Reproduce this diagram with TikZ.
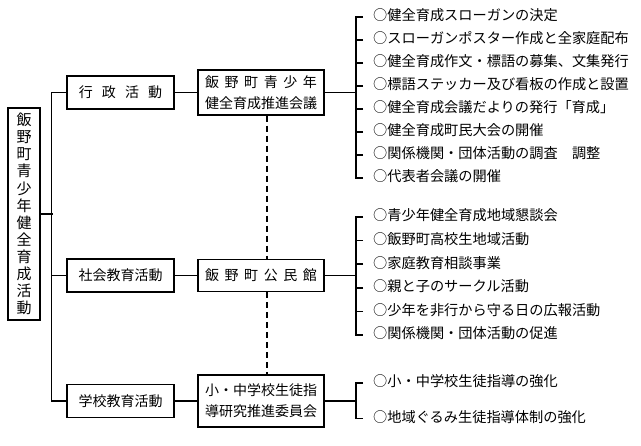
\documentclass[tikz,border=0pt]{standalone}
\usepackage{fontspec}
\usepackage{tikz}
\usetikzlibrary{positioning,calc}
\newfontfamily\jpfont{Noto Sans CJK JP}
\newcommand{\gapL}{\hspace{0.65em}}
\newcommand{\gapS}{\hspace{0.4em}}

\begin{document}
\begin{tikzpicture}[
  x=1pt, y=-1pt,
  every node/.style={font=\jpfont\fontsize{14}{21}\selectfont},
  rootbox/.style={rectangle, draw, line width=1.4pt, minimum width=32pt, minimum height=212pt,
    inner sep=0pt, align=center, font=\jpfont\fontsize{15}{17.1}\selectfont},
  actbox/.style={rectangle, draw, line width=1.4pt, minimum width=107pt, minimum height=33pt,
    inner sep=0pt, align=center},
  orgbox/.style={rectangle, draw, line width=1.4pt, minimum width=126pt, inner sep=0pt, align=center},
  item/.style={inner xsep=0pt, inner ysep=0pt, text height=11pt, text depth=3pt, anchor=west,
    font=\jpfont\fontsize{14.2}{21}\selectfont, execute at begin node={\hspace{10pt}}},
  link/.style={line width=1.6pt},
  dashlink/.style={line width=1.2pt, dash pattern=on 6pt off 4pt},
]
\useasboundingbox (0,0) rectangle (641,446);

% Root and activities
\node[rootbox] (root) at (24,214) {飯\\野\\町\\青\\少\\年\\健\\全\\育\\成\\活\\動};
\node[actbox] (gyosei) at (120.5,92.5) {行\gapL 政\gapL 活\gapL 動};
\node[actbox] (shakai) at (120.5,275.5) {社会教育活動};
\node[actbox] (gakko) at (120.5,401) {学校教育活動};

% Organisations
\node[orgbox, minimum height=45pt] (kaigi) at (261,92.5) {飯\gapS 野\gapS 町\gapS 青\gapS 少\gapS 年\\健全育成推進会議};
\node[orgbox, minimum height=32pt] (kominkan) at (261,275.5) {飯\gapS 野\gapS 町\gapS 公\gapS 民\gapS 館};
\node[orgbox, minimum height=52pt] (iinkai) at (261,401) {小・中学校生徒指\\導研究推進委員会};

% Items of the council
\node[item] (a1) at (363,17) {○健全育成スローガンの決定};
\node[item, below=8.6pt of a1.south west, anchor=north west] (a2) {○スローガンポスター作成と全家庭配布};
\node[item, below=8.6pt of a2.south west, anchor=north west] (a3) {○健全育成作文・標語の募集、文集発行};
\node[item, below=8.6pt of a3.south west, anchor=north west] (a4) {○標語ステッカー及び看板の作成と設置};
\node[item, below=8.6pt of a4.south west, anchor=north west] (a5) {○健全育成会議だよりの発行「育成」};
\node[item, below=8.6pt of a5.south west, anchor=north west] (a6) {○健全育成町民大会の開催};
\node[item, below=8.6pt of a6.south west, anchor=north west] (a7) {○関係機関・団体活動の調査　調整};
\node[item, below=8.6pt of a7.south west, anchor=north west] (a8) {○代表者会議の開催};

% Items of the hall
\node[item] (b1) at (363,217) {○青少年健全育成地域懇談会};
\node[item, below=9.2pt of b1.south west, anchor=north west] (b2) {○飯野町高校生地域活動};
\node[item, below=9.2pt of b2.south west, anchor=north west] (b3) {○家庭教育相談事業};
\node[item, below=9.2pt of b3.south west, anchor=north west] (b4) {○親と子のサークル活動};
\node[item, below=9.2pt of b4.south west, anchor=north west] (b5) {○少年を非行から守る日の広報活動};
\node[item, below=9.2pt of b5.south west, anchor=north west] (b6) {○関係機関・団体活動の促進};

% Items of the committee
\node[item] (c1) at (363,383) {○小・中学校生徒指導の強化};
\node[item, below=21pt of c1.south west, anchor=north west] (c2) {○地域ぐるみ生徒指導体制の強化};

% Spines
\coordinate (s1) at ($(a1.west)+(-7,0)$);
\coordinate (s2) at ($(b1.west)+(-7,0)$);
\coordinate (s3) at ($(c1.west)+(-7,0)$);

% Tree on the left
\draw[link] (root.east) -- ++(12,0);
\draw[link] (gyosei.west) -- ++(-15,0) |- (gakko.west);
\draw[link] (shakai.west) -- ++(-15,0);
\draw[link] (gyosei) -- (kaigi);
\draw[link] (shakai) -- (kominkan);
\draw[link] (gakko) -- (iinkai);

% Dashed ties
\draw[dashlink] ([xshift=6pt]kaigi.south) -- ([xshift=6pt]kominkan.north);
\draw[dashlink] ([xshift=6pt]kominkan.south) -- ([xshift=6pt]iinkai.north);

% Brackets
\draw[link] (kaigi.east) -- (kaigi.east -| s1);
\draw[link] (a1.west) -- (s1) |- (a8.west);
\draw[link] (a2.west) -- (a2.west -| s1);
\draw[link] (a3.west) -- (a3.west -| s1);
\draw[link] (a4.west) -- (a4.west -| s1);
\draw[link] (a5.west) -- (a5.west -| s1);
\draw[link] (a6.west) -- (a6.west -| s1);
\draw[link] (a7.west) -- (a7.west -| s1);

\draw[link] (kominkan.east) -- (kominkan.east -| s2);
\draw[link] (b1.west) -- (s2) |- (b6.west);
\draw[link] (b2.west) -- (b2.west -| s2);
\draw[link] (b3.west) -- (b3.west -| s2);
\draw[link] (b4.west) -- (b4.west -| s2);
\draw[link] (b5.west) -- (b5.west -| s2);

\draw[link] (iinkai.east) -- (iinkai.east -| s3);
\draw[link] (c1.west) -- (s3) |- (c2.west);
\end{tikzpicture}
\end{document}
